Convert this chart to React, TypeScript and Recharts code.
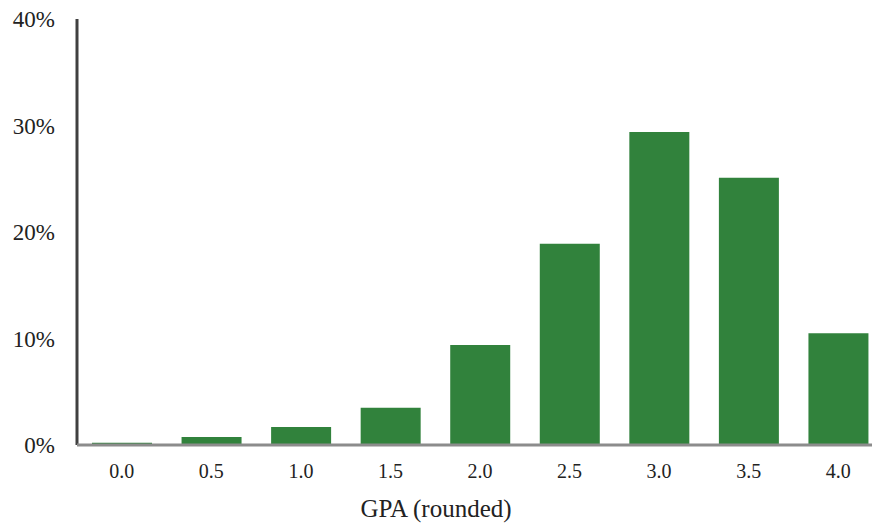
import { BarChart, Bar, XAxis, YAxis, Label } from "recharts";

const gpaLabels = ["0.0", "0.5", "1.0", "1.5", "2.0", "2.5", "3.0", "3.5", "4.0"];
const sharePct = [0.2, 0.75, 1.7, 3.5, 9.4, 18.9, 29.4, 25.1, 10.5];
const yTicks = [0, 10, 20, 30, 40];

const data = gpaLabels.map((gpa, i) => ({ gpa, share: sharePct[i] }));

const serif = "'Liberation Serif', 'DejaVu Serif', serif";

export default function App() {
  return (
    <div
      style={{
        position: "absolute",
        top: 0,
        left: 0,
        width: 872,
        height: 523,
        overflow: "hidden",
        background: "#fff",
      }}
    >
      <BarChart
        width={884}
        height={523}
        data={data}
        margin={{ top: 19, right: 1, bottom: 0, left: 0 }}
        barCategoryGap={0}
      >
        <YAxis
          domain={[0, 40]}
          ticks={yTicks}
          width={77}
          tickFormatter={(v: number) => `${v}%`}
          tickLine={false}
          tickSize={0}
          tickMargin={22}
          axisLine={{ stroke: "#404040", strokeWidth: 3 }}
          tick={{ fill: "#222", fontSize: 23, fontFamily: serif }}
        />
        <XAxis
          dataKey="gpa"
          height={78}
          tickLine={false}
          tickSize={0}
          tickMargin={19}
          axisLine={{ stroke: "#8c8c8c", strokeWidth: 3 }}
          tick={{ fill: "#222", fontSize: 20, fontFamily: serif }}
        >
          <Label
            value="GPA (rounded)"
            position="insideBottom"
            offset={6}
            dx={-44}
            style={{ fill: "#222", fontSize: 25, fontFamily: serif }}
          />
        </XAxis>
        <Bar dataKey="share" fill="#31823c" barSize={60} isAnimationActive={false} />
      </BarChart>
    </div>
  );
}
